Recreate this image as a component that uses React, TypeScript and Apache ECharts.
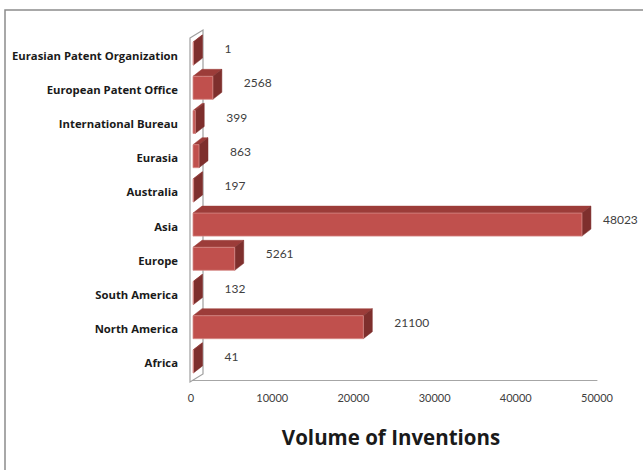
import React, { useEffect, useRef } from "react";
import * as echarts from "echarts";

const categories = [
  "Africa",
  "North America",
  "South America",
  "Europe",
  "Asia",
  "Australia",
  "Eurasia",
  "International Bureau",
  "European Patent Office",
  "Eurasian Patent Organization",
];
const inventions = [41, 21100, 132, 5261, 48023, 197, 863, 399, 2568, 1];
const xTicks = [0, 10000, 20000, 30000, 40000, 50000];
const axisTitle = "Volume of Inventions";

const GRID_LEFT = 191;
const GRID_RIGHT = 46;
const GRID_TOP = 38;
const GRID_BOTTOM = 90;
const W = 643;
const H = 470;

export default function App() {
  const ref = useRef<HTMLDivElement>(null);
  useEffect(() => {
    if (!ref.current) return;
    const chart = echarts.init(ref.current, undefined, { renderer: "svg" });
    const dx = 9;
    const dy = -7;
    const barH = 23;
    const plotRight = W - GRID_RIGHT;
    const plotBottom = H - GRID_BOTTOM;
    chart.setOption({
      animation: false,
      backgroundColor: "#ffffff",
      grid: { left: GRID_LEFT, right: GRID_RIGHT, top: GRID_TOP, bottom: GRID_BOTTOM, containLabel: false },
      xAxis: {
        type: "value",
        min: xTicks[0],
        max: xTicks[xTicks.length - 1],
        interval: xTicks[1] - xTicks[0],
        axisLine: { show: true, lineStyle: { color: "#a6a6a6", width: 1 } },
        axisTick: { show: false },
        splitLine: { show: false },
        axisLabel: {
          color: "#404040",
          fontSize: 11,
          fontFamily: "Lato",
          margin: 12,
          formatter: (v: number) => String(v),
        },
        name: axisTitle,
        nameLocation: "middle",
        nameGap: 46,
        nameTextStyle: { color: "#1a1a1a", fontSize: 20.5, fontWeight: "bold", fontFamily: "Open Sans", padding: [0, 6, 0, 0] },
      },
      yAxis: {
        type: "category",
        data: categories,
        axisLine: { show: false },
        axisTick: { show: false },
        splitLine: { show: false },
        axisLabel: { color: "#1a1a1a", fontSize: 11.3, fontWeight: "bold", fontFamily: "Open Sans", margin: 13 },
      },
      graphic: [
        {
          type: "rect",
          shape: { x: 5, y: 10, width: 800, height: 600 },
          style: { fill: "none", stroke: "#8c8c8c", lineWidth: 1.5 },
          z: 0,
        },
        {
          type: "polygon",
          shape: {
            points: [
              [GRID_LEFT - 1, GRID_TOP],
              [GRID_LEFT + 12, GRID_TOP - 8],
              [GRID_LEFT + 12, plotBottom - 6],
              [GRID_LEFT - 1, plotBottom + 2],
            ],
          },
          style: { fill: "#ffffff", stroke: "#a0a0a0", lineWidth: 1.2 },
          z: 1,
        },
      ],
      series: [
        {
          type: "custom",
          z: 5,
          data: inventions.map((v, i) => [v, i]),
          encode: { x: 0, y: 1 },
          renderItem: (params: any, api: any) => {
            const val = api.value(0);
            const idx = api.value(1);
            const start = api.coord([0, idx]);
            const end = api.coord([val, idx]);
            const x0 = start[0] + 2;
            const x1 = Math.max(end[0] + 1, x0 + 0.5);
            const cy = end[1] - 1.5;
            const y0 = cy - barH / 2;
            const y1 = cy + barH / 2;
            const lx = Math.min(x1 + dx + 22, plotRight + 6);
            return {
              type: "group",
              children: [
                {
                  type: "polygon",
                  shape: { points: [[x0, y0], [x1, y0], [x1 + dx, y0 + dy], [x0 + dx, y0 + dy]] },
                  style: { fill: "#9c3c39", stroke: "#9c3c39", lineWidth: 0.5 },
                },
                {
                  type: "polygon",
                  shape: { points: [[x1, y0], [x1 + dx, y0 + dy], [x1 + dx, y1 + dy], [x1, y1]] },
                  style: { fill: "#7e2f2d", stroke: "#7e2f2d", lineWidth: 0.5 },
                },
                {
                  type: "rect",
                  shape: { x: x0, y: y0, width: x1 - x0, height: barH },
                  style: { fill: "#c0504d", stroke: "#d58a88", lineWidth: 0.8 },
                },
                {
                  type: "text",
                  x: lx,
                  y: cy - 5,
                  style: {
                    text: String(val),
                    fill: "#404040",
                    fontSize: 12,
                    fontFamily: "Lato",
                    textAlign: "left",
                    textVerticalAlign: "middle",
                  },
                },
              ],
            };
          },
        },
      ],
    });
    return () => chart.dispose();
  }, []);
  return (
    <div
      ref={ref}
      style={{ position: "fixed", left: 0, top: 0, width: W, height: H, background: "#fff" }}
    />
  );
}
